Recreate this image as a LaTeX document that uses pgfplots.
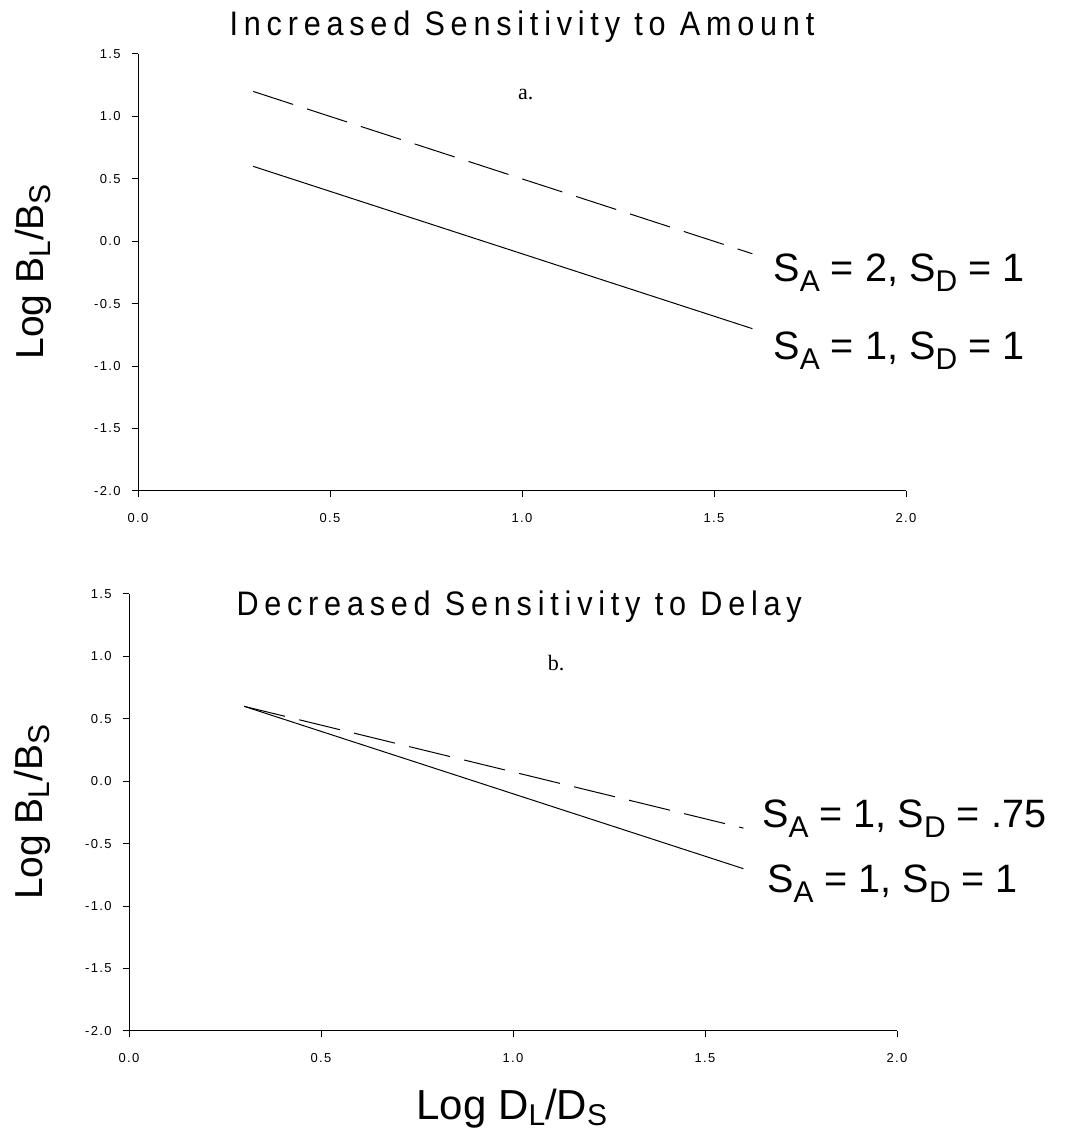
\documentclass[border=0pt]{standalone}
\usepackage{pgfplots}
\pgfplotsset{compat=1.18}
\usepackage{fontspec}
\setmainfont{Liberation Sans}
\newfontfamily\seriffont{Liberation Serif}
\newfontfamily\titlefont[LetterSpace=17, FakeStretch=0.9]{Liberation Sans}
\newfontfamily\tickfont[LetterSpace=10]{Liberation Sans}
\newcommand{\sub}[1]{\raisebox{-5pt}{\fontsize{15}{15}\selectfont #1}}
\newcommand{\ysub}[1]{\raisebox{-3.5pt}{\fontsize{15}{15}\selectfont #1}}
\newcommand{\xsub}[1]{\raisebox{-2.8pt}{\fontsize{15}{15}\selectfont #1}}
\newcommand{\curvelab}[1]{\fontsize{19.8}{21}\selectfont #1}
\pgfplotsset{
  myax/.style={
    scale only axis, width=384pt, height=218.5pt,
    xmin=0, xmax=2, ymin=-2, ymax=1.5,
    axis lines*=left, tick align=outside, major tick length=3.2pt,
    xtick={0,0.5,1,1.5,2}, ytick={-2,-1.5,-1,-0.5,0,0.5,1,1.5},
    tick style={black, line width=0.5pt},
    axis line style={black, line width=0.5pt},
    tick label style={font=\tickfont\fontsize{6.5}{7}\selectfont},
    yticklabel style={xshift=-2pt},
    xticklabel style={yshift=-4.5pt},
    /pgf/number format/.cd, fixed, fixed zerofill, precision=1, assume math mode=true,
    /pgfplots/.cd,
    clip=false,
  }
}
\begin{document}
\begin{tikzpicture}
\useasboundingbox (0,0) rectangle (532.5pt,566.5pt);
% top axis
\begin{axis}[myax, at={(69pt,321pt)}, anchor=south west]
\addplot[black, line width=0.5pt] coordinates {(0.3,0.6) (1.6,-0.7)};
\addplot[black, line width=0.5pt, dash pattern=on 21pt off 7.3pt] coordinates {(0.3,1.2) (1.6,-0.1)};
\node[anchor=base, inner sep=0] at (axis cs:1.0,1.652) {\titlefont\fontsize{17}{18}\selectfont Increased Sensitivity to Amount};
\node[anchor=base, inner sep=0] at (axis cs:1.01,1.132) {\seriffont\fontsize{11}{12}\selectfont a.};
\node[anchor=base west, inner sep=0] at (axis cs:1.654,-0.324) {\curvelab{S\sub{A} = 2, S\sub{D} = 1}};
\node[anchor=base west, inner sep=0] at (axis cs:1.654,-0.948) {\curvelab{S\sub{A} = 1, S\sub{D} = 1}};
\node[anchor=base, inner sep=0, rotate=90] at (axis cs:-0.247,-0.244) {\fontsize{19.5}{20}\selectfont Log B\ysub{L}/B\ysub{S}};
\end{axis}
% bottom axis
\begin{axis}[myax, at={(64.5pt,51pt)}, anchor=south west]
\addplot[black, line width=0.5pt] coordinates {(0.3,0.6) (1.6,-0.7)};
\addplot[black, line width=0.5pt, dash pattern=on 21pt off 7.3pt] coordinates {(0.3,0.6) (1.6,-0.375)};
\node[anchor=base, inner sep=0] at (axis cs:1.016,1.328) {\titlefont\fontsize{17}{18}\selectfont Decreased Sensitivity to Delay};
\node[anchor=base, inner sep=0] at (axis cs:1.112,0.888) {\seriffont\fontsize{11}{12}\selectfont b.};
\node[anchor=base west, inner sep=0] at (axis cs:1.648,-0.368) {\curvelab{S\sub{A} = 1, S\sub{D} = .75}};
\node[anchor=base west, inner sep=0] at (axis cs:1.661,-0.888) {\curvelab{S\sub{A} = 1, S\sub{D} = 1}};
\node[anchor=base, inner sep=0, rotate=90] at (axis cs:-0.2245,-0.248) {\fontsize{19.5}{20}\selectfont Log B\ysub{L}/B\ysub{S}};
\node[anchor=base, inner sep=0] at (axis cs:0.997,-2.71) {\fontsize{21}{22}\selectfont Log D\xsub{L}/D\xsub{S}};
\end{axis}
\end{tikzpicture}
\end{document}
